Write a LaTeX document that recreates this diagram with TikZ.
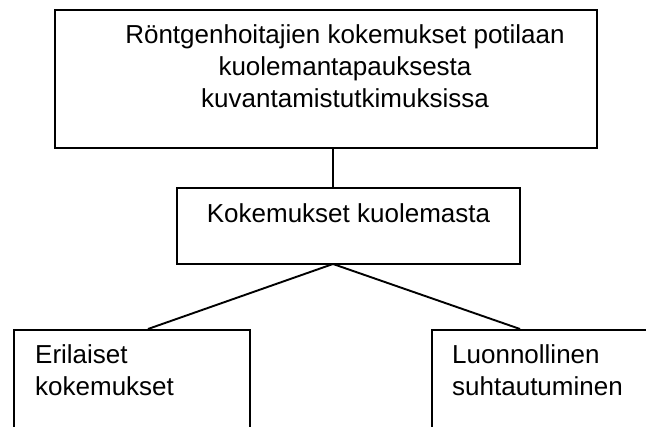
\documentclass[tikz,border=0pt]{standalone}
\usepackage{fontspec}
\setmainfont{Liberation Sans}
\begin{document}
\begin{tikzpicture}[x=1pt,y=1pt,
    laatikko/.style={draw,line width=1.9pt,inner sep=0pt},
    teksti/.style={inner sep=0pt,font=\fontsize{26}{32}\selectfont}]
      \useasboundingbox (0,0) rectangle (646,427);
      % laatikot
      \node[laatikko,minimum width=542,minimum height=138] (aihe) at (326,348) {};
      \node[laatikko,minimum width=343,minimum height=76] (kuolema) at (348.5,201) {};
      \node[laatikko,minimum width=236,minimum height=160,anchor=north west] (erilaiset) at (13,98) {};
      \node[laatikko,minimum width=260,minimum height=160,anchor=north west] (luonnollinen) at (431,98) {};
      % tekstit
      \node[teksti,align=center,anchor=base] (aiheteksti) at (345,319) {Röntgenhoitajien kokemukset potilaan\\kuolemantapauksesta\\kuvantamistutkimuksissa};
      \node[teksti,anchor=base] (kuolemateksti) at (348.5,204) {Kokemukset kuolemasta};
      \node[teksti,align=left,anchor=base west] (erilaisetteksti) at (35,31) {Erilaiset\\kokemukset};
      \node[teksti,align=left,anchor=base west] (luonnollinenteksti) at (452,31) {Luonnollinen\\suhtautuminen};
      % yhteydet
      \coordinate (haara) at (333,163);
      \draw[line width=1.9pt] (aihe.south -| haara) -- (kuolema.north -| haara);
      \draw[line width=1.9pt] (haara) -- (erilaiset.north -| 148,0);
      \draw[line width=1.9pt] (haara) -- (luonnollinen.north -| 520,0);
\end{tikzpicture}
\end{document}
